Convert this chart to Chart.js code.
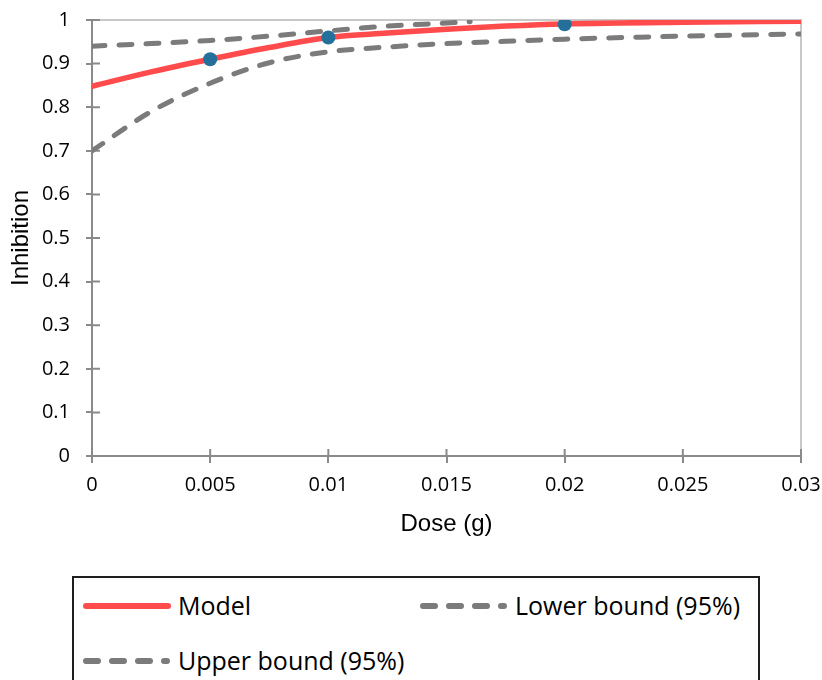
<!DOCTYPE html>
<html>
<head>
<meta charset="utf-8">
<script src="https://cdn.jsdelivr.net/npm/chart.js@4.4.1/dist/chart.umd.min.js"></script>
<style>
html,body{margin:0;padding:0;background:#fff;}
#wrap{position:relative;width:822px;height:680px;overflow:hidden;background:#fff;}
#c{position:absolute;left:0;top:0;}
#legendBox{position:absolute;left:72px;top:576px;width:688px;height:130px;border:2px solid #1e1e1e;box-sizing:border-box;}
.lg-sample{position:absolute;}
.lg-text{position:absolute;font-family:"Open Sans",sans-serif;font-size:25px;line-height:34px;color:#000;white-space:nowrap;}
</style>
</head>
<body>
<div id="wrap">
  <canvas id="c" width="822" height="560"></canvas>
  <div id="legendBox"></div>
  <svg class="lg-sample" style="left:80px;top:600px" width="94" height="12"><line x1="6" y1="6" x2="88" y2="6" stroke="#ff4b4b" stroke-width="6" stroke-linecap="round"/></svg>
  <div class="lg-text" style="left:178px;top:588px">Model</div>
  <svg class="lg-sample" style="left:417px;top:600px" width="94" height="12"><line x1="6" y1="6" x2="87" y2="6" stroke="#7b7b7b" stroke-width="6" stroke-linecap="round" stroke-dasharray="12 14"/></svg>
  <div class="lg-text" style="left:515px;top:588px">Lower bound (95%)</div>
  <svg class="lg-sample" style="left:80px;top:655px" width="94" height="12"><line x1="6" y1="6" x2="87" y2="6" stroke="#7b7b7b" stroke-width="6" stroke-linecap="round" stroke-dasharray="12 14"/></svg>
  <div class="lg-text" style="left:178px;top:643px">Upper bound (95%)</div>
</div>
<script>
// ---- data ----
const doseModel = [0, 0.0025, 0.005, 0.0075, 0.01, 0.0125, 0.015, 0.0175, 0.02, 0.025, 0.03];
const inhibitionModel = [0.848, 0.881, 0.910, 0.937, 0.960, 0.970, 0.979, 0.986, 0.991, 0.995, 0.997];

const doseLower = [0, 0.0025, 0.005, 0.0075, 0.01, 0.0125, 0.015, 0.0175, 0.02, 0.025, 0.03];
const inhibitionLower = [0.700, 0.790, 0.855, 0.902, 0.927, 0.938, 0.946, 0.951, 0.956, 0.963, 0.968];

const doseUpper = [0, 0.0025, 0.005, 0.0075, 0.01, 0.0125, 0.015, 0.016];
const inhibitionUpper = [0.940, 0.946, 0.953, 0.963, 0.975, 0.986, 0.993, 0.996];

const doseObserved = [0.005, 0.01, 0.02];
const inhibitionObserved = [0.91, 0.96, 0.99];

const xTickLabels = ['0', '0.005', '0.01', '0.015', '0.02', '0.025', '0.03'];
const yTickLabels = ['0', '0.1', '0.2', '0.3', '0.4', '0.5', '0.6', '0.7', '0.8', '0.9', '1'];

const seriesNames = ['Model', 'Lower bound (95%)', 'Upper bound (95%)', 'Observed'];

const toPoints = (xs, ys) => xs.map((x, i) => ({x: x, y: ys[i]}));

const axisColor = '#8a8a8a';
const frameColor = '#c8c8c8';

const framePlugin = {
  id: 'frameAndCrossTicks',
  beforeDatasetsDraw(chart) {
    const {ctx, chartArea, scales} = chart;
    ctx.save();
    ctx.lineWidth = 2;
    ctx.strokeStyle = frameColor;
    ctx.beginPath();
    ctx.moveTo(chartArea.left, chartArea.top);
    ctx.lineTo(chartArea.right, chartArea.top);
    ctx.lineTo(chartArea.right, chartArea.bottom);
    ctx.stroke();
    ctx.strokeStyle = axisColor;
    ctx.beginPath();
    scales.x.ticks.forEach(t => {
      const px = scales.x.getPixelForValue(t.value);
      ctx.moveTo(px, chartArea.bottom);
      ctx.lineTo(px, chartArea.bottom - 7);
    });
    scales.y.ticks.forEach(t => {
      const py = scales.y.getPixelForValue(t.value);
      ctx.moveTo(chartArea.left, py);
      ctx.lineTo(chartArea.left + 8, py);
    });
    ctx.stroke();
    ctx.restore();
  }
};

new Chart(document.getElementById('c'), {
  type: 'line',
  data: {
    datasets: [
      {
        label: seriesNames[3],
        data: toPoints(doseObserved, inhibitionObserved),
        showLine: false,
        pointRadius: 7,
        pointBackgroundColor: '#25709b',
        pointBorderColor: '#25709b',
        pointBorderWidth: 0,
        order: 0
      },
      {
        label: seriesNames[0],
        data: toPoints(doseModel, inhibitionModel),
        borderColor: '#ff4b4b',
        borderWidth: 5.5,
        pointRadius: 0,
        cubicInterpolationMode: 'monotone',
        borderCapStyle: 'round',
        order: 1
      },
      {
        label: seriesNames[1],
        data: toPoints(doseLower, inhibitionLower),
        borderColor: '#7b7b7b',
        borderWidth: 5,
        borderDash: [13, 14],
        borderCapStyle: 'round',
        pointRadius: 0,
        cubicInterpolationMode: 'monotone',
        order: 2
      },
      {
        label: seriesNames[2],
        data: toPoints(doseUpper, inhibitionUpper),
        borderColor: '#7b7b7b',
        borderWidth: 5,
        borderDash: [13, 14],
        borderCapStyle: 'round',
        pointRadius: 0,
        cubicInterpolationMode: 'monotone',
        order: 3
      }
    ]
  },
  options: {
    responsive: false,
    animation: false,
    layout: {padding: {top: 20, right: 21, left: 0, bottom: 0}},
    plugins: {legend: {display: false}, tooltip: {enabled: false}},
    scales: {
      x: {
        type: 'linear',
        min: 0, max: 0.03,
        afterFit: s => { s.height = 104; s.paddingLeft = 0; s.paddingRight = 0; },
        ticks: {
          stepSize: 0.005,
          maxRotation: 0,
          autoSkip: false,
          padding: 10,
          color: '#000',
          font: {family: 'Open Sans', size: 20},
          callback: (v, i) => xTickLabels[i]
        },
        grid: {drawOnChartArea: false, drawTicks: true, tickLength: 7, color: axisColor, lineWidth: 2},
        border: {display: true, color: axisColor, width: 2},
        title: {
          display: true, text: 'Dose (g)', color: '#000',
          font: {family: 'Liberation Sans', size: 24},
          padding: {top: 0, bottom: 21}
        }
      },
      y: {
        type: 'linear',
        min: 0, max: 1,
        afterFit: s => { s.width = 92; s.paddingTop = 0; s.paddingBottom = 0; },
        ticks: {
          stepSize: 0.1,
          autoSkip: false,
          padding: 16,
          color: '#000',
          font: {family: 'Open Sans', size: 20},
          callback: (v, i) => yTickLabels[i]
        },
        grid: {drawOnChartArea: false, drawTicks: true, tickLength: 6, color: axisColor, lineWidth: 2},
        border: {display: true, color: axisColor, width: 2},
        title: {
          display: true, text: 'Inhibition', color: '#000',
          font: {family: 'Liberation Sans', size: 24},
          padding: {top: 7, bottom: 0}
        }
      }
    }
  },
  plugins: [framePlugin]
});
</script>
</body>
</html>
